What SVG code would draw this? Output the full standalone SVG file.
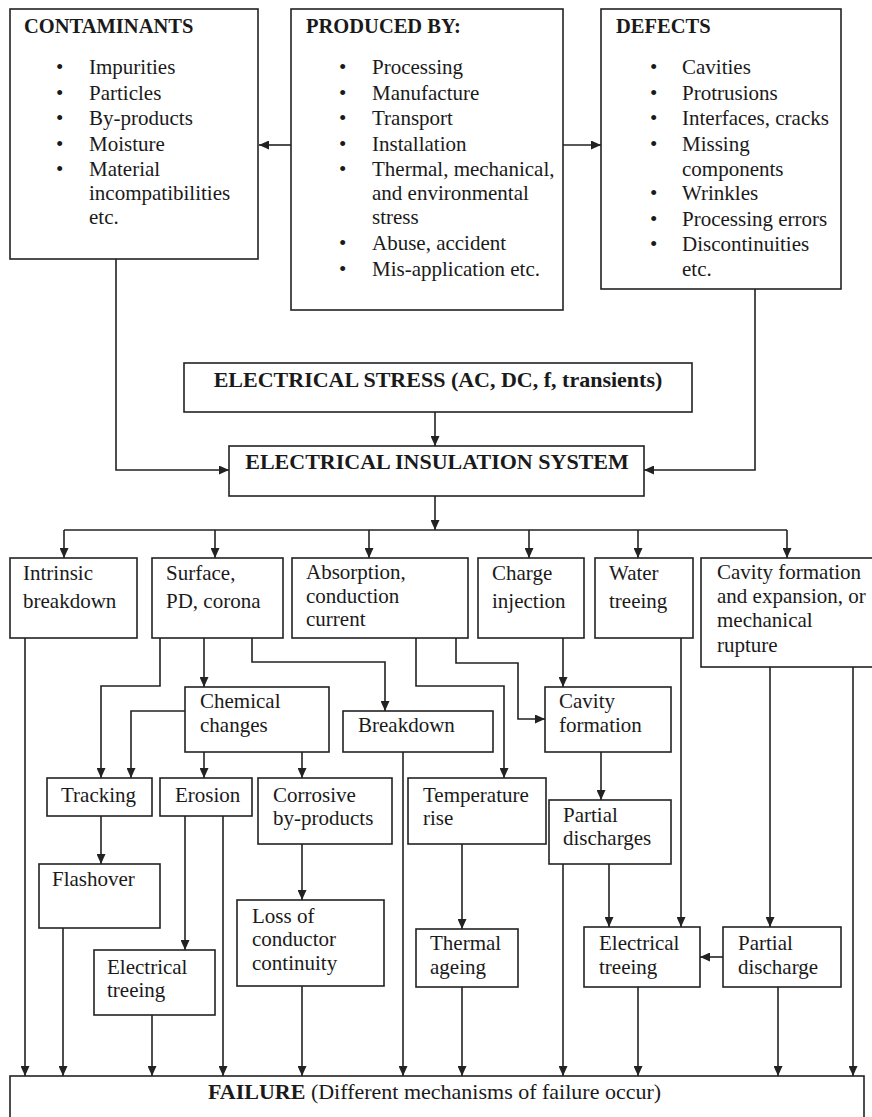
<svg xmlns="http://www.w3.org/2000/svg" width="872" height="1117" viewBox="0 0 872 1117">
<style>
.box{fill:#fff;stroke:#222;stroke-width:1.6}
.c{fill:none;stroke:#222;stroke-width:1.6}
.a{marker-end:url(#ah)}
text{font-family:"Liberation Serif","Times New Roman",serif;fill:#1a1a1a}
.t{font-size:21px}
.h{font-size:20.5px;font-weight:bold}
.H{font-size:22px;font-weight:bold}
</style>
<defs>
<marker id="ah" viewBox="0 0 10 9" refX="10" refY="4.5" markerWidth="10" markerHeight="9" markerUnits="userSpaceOnUse" orient="auto">
<path d="M0,0 L10,4.5 L0,9 z" fill="#222"/>
</marker>
</defs>
<rect width="872" height="1117" fill="#fff"/>

<g id="connectors">
<path class="c a" d="M291,145 H259"/>
<path class="c a" d="M563,145 H601"/>
<path class="c a" d="M116,259 V470 H229"/>
<path class="c a" d="M755,289 V470 H644"/>
<path class="c a" d="M435,412 V446"/>
<path class="c a" d="M435,496 V530"/>
<path class="c" d="M64,530 H787"/>
<path class="c a" d="M64,530 V558"/>
<path class="c a" d="M215,530 V558"/>
<path class="c a" d="M369,530 V558"/>
<path class="c a" d="M529,530 V558"/>
<path class="c a" d="M638,530 V558"/>
<path class="c a" d="M787,530 V558"/>
<path class="c a" d="M25,638 V1076"/>
<path class="c a" d="M160,638 V686 H101 V778"/>
<path class="c a" d="M204,638 V687"/>
<path class="c a" d="M252,638 V662 H385 V711"/>
<path class="c a" d="M185,711 H131 V778"/>
<path class="c a" d="M204,752 V778"/>
<path class="c a" d="M302,752 V778"/>
<path class="c a" d="M416,638 V686 H504 V778"/>
<path class="c a" d="M456,638 V663 H518 V719 H545"/>
<path class="c a" d="M563,638 V687"/>
<path class="c a" d="M681,638 V927"/>
<path class="c a" d="M770,667 V927"/>
<path class="c a" d="M853,667 V1076"/>
<path class="c a" d="M403,752 V1076"/>
<path class="c a" d="M101,816 V864"/>
<path class="c a" d="M185,816 V950"/>
<path class="c a" d="M223,816 V1076"/>
<path class="c a" d="M302,844 V900"/>
<path class="c a" d="M462,844 V929"/>
<path class="c a" d="M601,752 V800"/>
<path class="c a" d="M63,928 V1076"/>
<path class="c a" d="M152,1015 V1076"/>
<path class="c a" d="M302,986 V1076"/>
<path class="c a" d="M462,987 V1076"/>
<path class="c a" d="M563,864 V1076"/>
<path class="c a" d="M609,864 V927"/>
<path class="c a" d="M638,987 V1076"/>
<path class="c a" d="M778,987 V1076"/>
<path class="c a" d="M723,957 H700"/>
</g>

<g id="contaminants">
<rect class="box" x="10" y="9" width="248" height="250"/>
<text class="h" x="24" y="33">CONTAMINANTS</text>
<text class="t" x="56" y="74">•</text><text class="t" x="89" y="74">Impurities</text>
<text class="t" x="56" y="100">•</text><text class="t" x="89" y="100">Particles</text>
<text class="t" x="56" y="125">•</text><text class="t" x="89" y="125">By-products</text>
<text class="t" x="56" y="151">•</text><text class="t" x="89" y="151">Moisture</text>
<text class="t" x="56" y="176">•</text><text class="t" x="89" y="176">Material</text>
<text class="t" x="89" y="200">incompatibilities</text>
<text class="t" x="89" y="224">etc.</text>
</g>

<g id="produced-by">
<rect class="box" x="291" y="9" width="272" height="301"/>
<text class="h" x="306" y="33">PRODUCED BY:</text>
<text class="t" x="339" y="74">•</text><text class="t" x="372" y="74">Processing</text>
<text class="t" x="339" y="100">•</text><text class="t" x="372" y="100">Manufacture</text>
<text class="t" x="339" y="125">•</text><text class="t" x="372" y="125">Transport</text>
<text class="t" x="339" y="151">•</text><text class="t" x="372" y="151">Installation</text>
<text class="t" x="339" y="176">•</text><text class="t" x="372" y="176">Thermal, mechanical,</text>
<text class="t" x="372" y="200">and environmental</text>
<text class="t" x="372" y="224">stress</text>
<text class="t" x="339" y="250">•</text><text class="t" x="372" y="250">Abuse, accident</text>
<text class="t" x="339" y="276">•</text><text class="t" x="372" y="276">Mis-application etc.</text>
</g>

<g id="defects">
<rect class="box" x="601" y="9" width="240" height="280"/>
<text class="h" x="616" y="33">DEFECTS</text>
<text class="t" x="650" y="74">•</text><text class="t" x="682" y="74">Cavities</text>
<text class="t" x="650" y="100">•</text><text class="t" x="682" y="100">Protrusions</text>
<text class="t" x="650" y="125">•</text><text class="t" x="682" y="125">Interfaces, cracks</text>
<text class="t" x="650" y="151">•</text><text class="t" x="682" y="151">Missing</text>
<text class="t" x="682" y="176">components</text>
<text class="t" x="650" y="200">•</text><text class="t" x="682" y="200">Wrinkles</text>
<text class="t" x="650" y="226">•</text><text class="t" x="682" y="226">Processing errors</text>
<text class="t" x="650" y="251">•</text><text class="t" x="682" y="251">Discontinuities</text>
<text class="t" x="682" y="276">etc.</text>
</g>

<g id="electrical-stress">
<rect class="box" x="184" y="363" width="508" height="49"/>
<text class="H" x="438" y="387" text-anchor="middle">ELECTRICAL STRESS (AC, DC, f, transients)</text>
</g>

<g id="insulation-system">
<rect class="box" x="229" y="446" width="415" height="50"/>
<text class="H" x="437" y="469" text-anchor="middle">ELECTRICAL INSULATION SYSTEM</text>
</g>

<g id="intrinsic">
<rect class="box" x="10" y="558" width="127" height="80"/>
<text class="t" x="23" y="580">Intrinsic</text>
<text class="t" x="23" y="608">breakdown</text>
</g>
<g id="surface">
<rect class="box" x="152" y="558" width="131" height="80"/>
<text class="t" x="166" y="580">Surface,</text>
<text class="t" x="166" y="608">PD, corona</text>
</g>
<g id="absorption">
<rect class="box" x="292" y="558" width="176" height="80"/>
<text class="t" x="306" y="579">Absorption,</text>
<text class="t" x="306" y="603">conduction</text>
<text class="t" x="306" y="626">current</text>
</g>
<g id="charge-injection">
<rect class="box" x="478" y="558" width="106" height="80"/>
<text class="t" x="492" y="580">Charge</text>
<text class="t" x="492" y="608">injection</text>
</g>
<g id="water-treeing">
<rect class="box" x="595" y="558" width="98" height="80"/>
<text class="t" x="609" y="580">Water</text>
<text class="t" x="609" y="608">treeing</text>
</g>
<g id="cavity-expansion">
<rect class="box" x="701" y="558" width="174" height="109"/>
<text class="t" x="717" y="579">Cavity formation</text>
<text class="t" x="717" y="603">and expansion, or</text>
<text class="t" x="717" y="627">mechanical</text>
<text class="t" x="717" y="652">rupture</text>
</g>

<g id="chemical-changes">
<rect class="box" x="185" y="687" width="144" height="65"/>
<text class="t" x="200" y="708">Chemical</text>
<text class="t" x="200" y="732">changes</text>
</g>
<g id="breakdown">
<rect class="box" x="343" y="711" width="150" height="41"/>
<text class="t" x="358" y="732">Breakdown</text>
</g>
<g id="cavity-formation">
<rect class="box" x="545" y="687" width="126" height="65"/>
<text class="t" x="559" y="708">Cavity</text>
<text class="t" x="559" y="732">formation</text>
</g>

<g id="tracking">
<rect class="box" x="47" y="778" width="105" height="38"/>
<text class="t" x="61" y="802">Tracking</text>
</g>
<g id="erosion">
<rect class="box" x="160" y="778" width="92" height="38"/>
<text class="t" x="175" y="802">Erosion</text>
</g>
<g id="corrosive">
<rect class="box" x="258" y="778" width="134" height="66"/>
<text class="t" x="273" y="802">Corrosive</text>
<text class="t" x="273" y="825">by-products</text>
</g>
<g id="temperature-rise">
<rect class="box" x="408" y="778" width="138" height="66"/>
<text class="t" x="423" y="802">Temperature</text>
<text class="t" x="423" y="825">rise</text>
</g>
<g id="partial-discharges">
<rect class="box" x="549" y="800" width="122" height="64"/>
<text class="t" x="563" y="822">Partial</text>
<text class="t" x="563" y="845">discharges</text>
</g>

<g id="flashover">
<rect class="box" x="39" y="864" width="121" height="64"/>
<text class="t" x="52" y="886">Flashover</text>
</g>
<g id="loss-continuity">
<rect class="box" x="237" y="900" width="147" height="86"/>
<text class="t" x="252" y="923">Loss of</text>
<text class="t" x="252" y="946">conductor</text>
<text class="t" x="252" y="970">continuity</text>
</g>
<g id="thermal-ageing">
<rect class="box" x="416" y="929" width="102" height="58"/>
<text class="t" x="430" y="950">Thermal</text>
<text class="t" x="430" y="974">ageing</text>
</g>
<g id="electrical-treeing-left">
<rect class="box" x="94" y="950" width="121" height="65"/>
<text class="t" x="107" y="974">Electrical</text>
<text class="t" x="107" y="997">treeing</text>
</g>
<g id="electrical-treeing-right">
<rect class="box" x="584" y="927" width="116" height="60"/>
<text class="t" x="599" y="950">Electrical</text>
<text class="t" x="599" y="974">treeing</text>
</g>
<g id="partial-discharge">
<rect class="box" x="723" y="927" width="118" height="60"/>
<text class="t" x="738" y="950">Partial</text>
<text class="t" x="738" y="974">discharge</text>
</g>

<g id="failure">
<rect class="box" x="10" y="1076" width="854" height="45"/>
<text x="208" y="1099" style="font-size:22px"><tspan font-weight="bold">FAILURE</tspan> (Different mechanisms of failure occur)</text>
</g>
</svg>
